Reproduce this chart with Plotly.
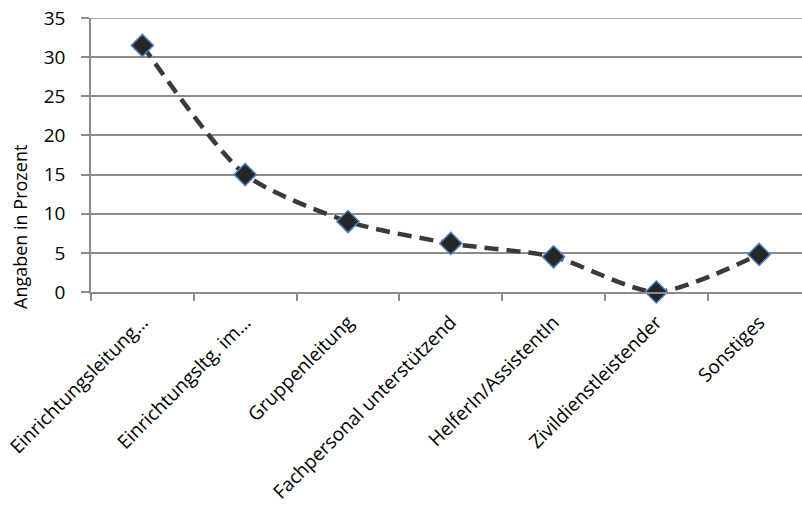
import plotly.graph_objects as go

categories = ["Einrichtungsleitung…", "Einrichtungsltg. im…", "Gruppenleitung",
              "Fachpersonal unterstützend", "HelferIn/AssistentIn",
              "Zivildienstleistender", "Sonstiges"]
values = [31.5, 15.0, 9.0, 6.2, 4.5, 0.0, 4.8]
y_ticks = [0, 5, 10, 15, 20, 25, 30, 35]
y_max = 35
y_title = "Angaben in Prozent"

GRID = "#8c8c8c"

fig = go.Figure()
fig.add_trace(go.Scatter(
    x=categories, y=values, mode="lines+markers",
    line=dict(color="#3a3a3a", width=4.5, dash="14px,8px", shape="spline", smoothing=0.7),
    marker=dict(symbol="diamond", size=17, color="#262626",
                line=dict(color="#4a7ebb", width=1.5)),
    cliponaxis=False,
))

# top gridline (plotly omits the gridline lying on the plot edge)
fig.add_shape(type="line", xref="paper", yref="y", x0=0, x1=1, y0=y_max, y1=y_max,
              line=dict(color=GRID, width=1.5), layer="below")

fig.add_annotation(
    text=y_title, xref="paper", yref="paper", x=-0.1, y=0.237,
    xanchor="center", yanchor="middle", textangle=-90, showarrow=False,
    font=dict(size=18),
)

fig.update_layout(
    width=802, height=524,
    margin=dict(l=91, r=0, t=18, b=232, pad=0, autoexpand=False),
    paper_bgcolor="white", plot_bgcolor="white",
    showlegend=False,
    font=dict(family="Open Sans, Liberation Sans, sans-serif", color="#000000"),
)
fig.update_xaxes(
    type="category", range=[-0.5, 6.417], automargin=False,
    tickangle=-45, tickfont=dict(size=19), ticklabeloverflow="allow",
    ticklabelstandoff=10,
    showline=True, linecolor=GRID, linewidth=1.5,
    ticks="outside", tickson="boundaries", ticklen=7, tickcolor=GRID, tickwidth=1.5,
    showgrid=False, zeroline=False,
)
fig.update_yaxes(
    range=[0, y_max], tickvals=y_ticks, tickfont=dict(size=19), automargin=False,
    ticklabeloverflow="allow", ticklabelstandoff=12,
    showline=True, linecolor=GRID, linewidth=1.5,
    ticks="outside", ticklen=8, tickcolor=GRID, tickwidth=1.5,
    showgrid=True, gridcolor=GRID, gridwidth=1.5,
    zeroline=False,
)

fig.write_html("out.html", config={"displayModeBar": False},
               post_script="document.body.style.margin='0';")
